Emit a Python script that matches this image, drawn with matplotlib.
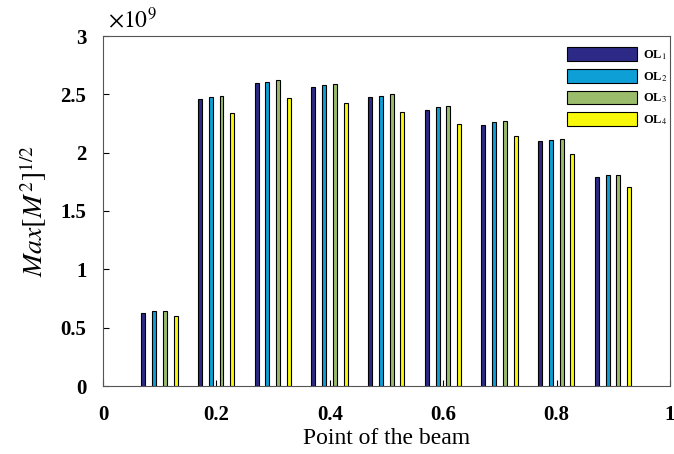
import numpy as np
import matplotlib
matplotlib.use("Agg")
import matplotlib.pyplot as plt

plt.rcParams['font.family'] = ['Liberation Serif', 'DejaVu Serif']
plt.rcParams['mathtext.fontset'] = 'stix'

points = [0.1, 0.2, 0.3, 0.4, 0.5, 0.6, 0.7, 0.8, 0.9]
ol1 = [0.63, 2.46, 2.60, 2.56, 2.48, 2.37, 2.24, 2.10, 1.79]
ol2 = [0.64, 2.48, 2.61, 2.58, 2.49, 2.39, 2.26, 2.11, 1.81]
ol3 = [0.64, 2.49, 2.62, 2.59, 2.50, 2.40, 2.27, 2.12, 1.81]
ol4 = [0.60, 2.34, 2.47, 2.43, 2.35, 2.25, 2.14, 1.99, 1.71]
labels = ['OL$_1$', 'OL$_2$', 'OL$_3$', 'OL$_4$']
colors = ['#2d2a87', '#0d9fd6', '#9bbd6b', '#f8f80a']

fig = plt.figure(figsize=(6.74, 4.54), dpi=100)
ax = fig.add_axes([103/674, 68/454, 567/674, 350/454])

x = np.array(points)
offsets = [-0.029, -0.01, 0.009, 0.028]
for vals, off, c, lab in zip([ol1, ol2, ol3, ol4], offsets, colors, labels):
    ax.bar(x + off, np.array(vals) * 1e9, width=0.007, color=c,
           edgecolor='black', linewidth=0.8, label=lab)

ax.set_xlim(0, 1)
ax.set_ylim(0, 3e9)
ax.tick_params(axis='both', labelsize=15, direction='in', length=4, width=0.8)
ax.tick_params(axis='y', pad=12)
ax.tick_params(axis='x', pad=14)
ax.set_xticks([0, 0.2, 0.4, 0.6, 0.8, 1])
ax.set_xticklabels(['0', '0.2', '0.4', '0.6', '0.8', '1'], fontweight='bold')
ax.set_yticks(np.arange(0, 3.01e9, 0.5e9))
ax.set_yticklabels(['0', '0.5', '1', '1.5', '2', '2.5', '3'], fontweight='bold')
for s in ax.spines.values():
    s.set_color('#555555')
ax.text(0.008, 1.01, r'$\times10^9$', transform=ax.transAxes, fontsize=17,
        ha='left', va='bottom')

ax.set_xlabel('Point of the beam', fontsize=17, labelpad=2)
ax.set_ylabel(r'$Max[M^2]^{1/2}$', fontsize=20, labelpad=8)

leg = ax.legend(loc='upper right', frameon=False,
                handlelength=5.6, handleheight=1.3, labelspacing=0.55,
                handletextpad=0.5,
                prop={'weight': 'bold', 'size': 9}, bbox_to_anchor=(1.016, 1.0))

fig.savefig('out.png', dpi=100)
